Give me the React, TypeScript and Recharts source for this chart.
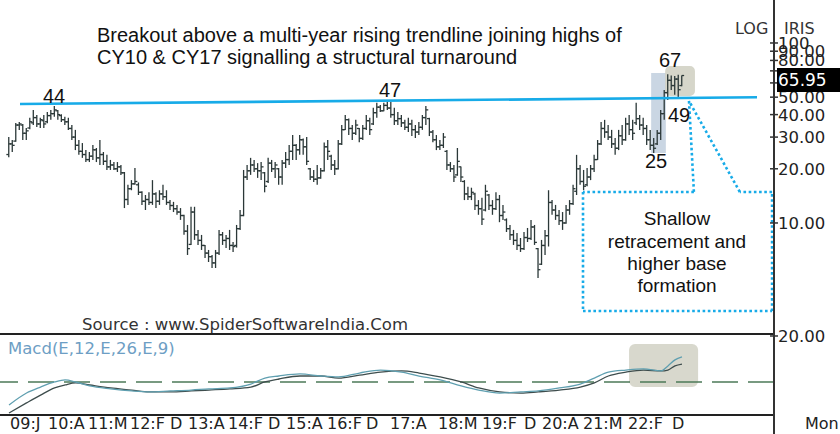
import {
  ComposedChart,
  LineChart,
  Bar,
  Line,
  XAxis,
  YAxis,
  ReferenceLine,
  ReferenceArea
} from 'recharts';

// monthly OHLC (oldest first)
const opens = [
  24.0, 27.5, 28.5, 35.0, 35.0, 31.5, 33.7, 36.0, 38.5, 35.5,
  37.0, 36.5, 39.5, 40.5, 42.0, 39.5, 37.5, 36.5, 33.5, 30.0,
  27.0, 25.0, 24.0, 22.5, 23.5, 25.5, 23.0, 24.0, 22.0, 20.5,
  21.0, 20.0, 20.5, 19.0, 13.5, 15.5, 16.5, 16.3, 14.8, 13.2,
  13.5, 13.0, 14.5, 13.2, 14.5, 14.0, 13.0, 12.5, 12.0, 11.5,
  11.0, 9.0, 7.6, 11.5, 8.6, 8.0, 7.5, 6.8, 6.5, 6.0,
  6.8, 8.6, 8.0, 8.2, 7.5, 7.5, 9.3, 11.0, 18.0, 19.5,
  21.0, 20.0, 19.5, 19.0, 17.0, 21.5, 20.0, 20.0, 18.0, 21.5,
  22.5, 25.0, 27.0, 25.5, 29.0, 26.5, 20.0, 18.0, 17.5, 17.8,
  19.5, 26.5, 23.5, 21.0, 20.0, 27.5, 33.0, 37.5, 33.5, 31.5,
  33.5, 29.5, 33.5, 37.0, 35.5, 41.0, 44.0, 42.0, 45.0, 43.5,
  40.0, 37.0, 38.0, 36.0, 34.0, 35.5, 33.0, 32.0, 34.0, 38.5,
  38.0, 32.0, 29.0, 26.5, 27.0, 25.0, 21.0, 20.0, 18.5, 20.5,
  17.0, 14.5, 14.0, 14.5, 12.5, 12.0, 11.8, 14.3, 12.5, 12.0,
  13.5, 11.0, 10.4, 9.3, 8.6, 8.0, 7.5, 7.2, 8.3, 8.2,
  9.5, 7.2, 5.9, 7.5, 8.5, 13.0, 11.8, 11.0, 10.3, 10.0,
  11.8, 12.8, 15.0, 20.0, 17.0, 16.3, 18.0, 20.0, 22.5, 27.5,
  33.5, 32.0, 30.0, 27.5, 26.0, 30.5, 29.0, 35.5, 33.0, 36.0,
  38.0, 35.0, 33.5, 29.0, 27.0, 27.5, 31.5, 40.5, 53.0, 62.0,
  58.0, 63.0, 58.0
];
const highs = [
  30.0, 28.9, 35.9, 36.4, 35.5, 33.7, 38.4, 42.4, 39.8, 38.4,
  39.8, 41.4, 42.4, 44.7, 42.4, 40.2, 38.9, 38.4, 35.0, 32.9,
  28.9, 27.8, 25.4, 24.8, 27.1, 26.1, 28.9, 24.8, 23.9, 22.4,
  21.8, 21.8, 21.0, 19.2, 16.3, 17.3, 20.2, 16.8, 15.0, 14.3,
  14.8, 17.3, 14.8, 15.2, 16.3, 15.2, 13.4, 13.1, 12.6, 12.1,
  11.1, 9.75, 12.3, 12.3, 9.15, 8.58, 7.55, 7.08, 6.64, 7.08,
  9.15, 8.91, 8.58, 9.15, 7.84, 9.75, 11.8, 19.7, 21.0, 23.0,
  22.4, 21.5, 21.8, 19.2, 23.0, 22.4, 21.8, 20.2, 22.4, 24.8,
  27.1, 30.8, 27.5, 30.8, 29.5, 30.0, 20.2, 19.7, 21.0, 20.2,
  28.0, 28.9, 23.9, 22.4, 28.9, 35.0, 39.8, 38.0, 35.0, 37.4,
  33.7, 35.0, 39.8, 38.4, 43.6, 46.5, 45.3, 46.5, 47.5, 47.0,
  43.6, 41.4, 39.8, 37.4, 38.4, 37.4, 35.0, 36.4, 39.8, 44.7,
  38.4, 32.9, 30.8, 28.9, 31.6, 25.4, 21.8, 21.0, 26.1, 20.6,
  17.3, 15.9, 15.7, 14.7, 13.4, 13.8, 16.3, 14.5, 13.4, 14.8,
  14.3, 12.6, 10.6, 9.75, 9.15, 8.80, 8.25, 8.91, 9.38, 10.4,
  9.75, 7.26, 8.05, 9.15, 15.2, 13.4, 12.6, 11.8, 11.5, 12.6,
  13.4, 16.3, 23.9, 21.0, 19.7, 20.2, 21.0, 23.9, 28.9, 36.4,
  37.4, 35.0, 32.9, 29.7, 32.9, 35.0, 38.4, 39.8, 37.4, 46.5,
  39.8, 38.4, 35.0, 32.9, 29.7, 32.9, 42.4, 54.8, 67.0, 66.0,
  65.5, 66.5, 66.0
];
const lows = [
  23.2, 24.8, 28.3, 32.9, 28.9, 28.9, 33.2, 35.0, 34.1, 33.7,
  33.7, 35.8, 37.4, 38.9, 37.4, 36.4, 35.0, 32.9, 28.9, 25.4,
  23.9, 23.0, 21.8, 21.8, 22.4, 21.8, 21.0, 21.0, 19.7, 19.7,
  19.7, 19.2, 18.5, 12.1, 12.6, 15.2, 16.3, 14.3, 12.6, 11.8,
  12.6, 12.6, 12.1, 12.6, 13.4, 12.6, 11.8, 11.5, 11.1, 10.4,
  8.6, 6.64, 7.55, 8.05, 7.55, 7.08, 6.39, 6.07, 5.62, 5.62,
  6.64, 7.55, 7.26, 7.08, 6.90, 7.3, 9.15, 10.9, 17.3, 18.5,
  19.2, 17.8, 17.3, 14.8, 16.7, 19.2, 17.8, 16.3, 16.3, 20.2,
  21.0, 22.4, 22.4, 23.9, 23.9, 21.0, 17.3, 16.9, 16.3, 17.6,
  19.3, 22.4, 19.7, 18.5, 19.8, 27.1, 32.9, 30.8, 28.9, 30.8,
  28.1, 28.9, 32.9, 30.8, 35.0, 38.4, 41.4, 41.8, 42.4, 38.4,
  35.0, 35.0, 34.1, 32.9, 32.0, 30.4, 29.7, 30.8, 32.9, 35.0,
  30.4, 28.1, 25.4, 25.4, 26.1, 19.7, 19.2, 16.9, 18.3, 16.9,
  13.4, 13.4, 13.4, 11.8, 11.1, 9.75, 11.6, 11.8, 11.1, 11.8,
  10.1, 10.4, 8.91, 8.05, 7.55, 7.08, 6.90, 7.08, 7.84, 8.05,
  7.55, 4.94, 5.84, 6.64, 7.4, 11.1, 10.4, 9.75, 9.15, 9.9,
  11.1, 12.6, 14.3, 16.3, 15.2, 16.0, 17.3, 19.2, 22.4, 27.1,
  29.7, 28.9, 26.1, 23.9, 25.4, 27.1, 28.6, 30.8, 28.9, 35.0,
  32.9, 30.8, 27.1, 25.4, 24.5, 27.1, 28.9, 37.4, 48.2, 54.8,
  51.5, 49.0, 57.5
];
const closes = [
  27.5, 27.0, 35.0, 35.5, 31.5, 32.5, 36.5, 38.5, 35.5, 37.5,
  35.5, 39.5, 40.5, 42.5, 40.0, 37.5, 36.5, 33.5, 30.0, 27.0,
  25.0, 24.0, 22.5, 23.5, 25.5, 23.0, 24.0, 22.0, 20.5, 21.0,
  20.0, 20.5, 19.0, 13.5, 15.5, 16.5, 17.0, 14.8, 13.2, 13.5,
  13.0, 14.5, 13.2, 14.5, 14.0, 13.0, 12.5, 12.0, 11.5, 11.0,
  9.0, 7.2, 11.5, 8.6, 8.0, 7.5, 6.8, 6.5, 6.0, 6.8,
  8.6, 8.0, 8.2, 7.5, 7.4, 9.3, 11.0, 18.0, 19.5, 21.0,
  20.0, 19.5, 20.5, 16.0, 21.5, 20.0, 21.0, 18.0, 21.5, 22.5,
  25.0, 27.0, 25.5, 29.0, 26.5, 22.0, 18.0, 17.5, 17.8, 19.5,
  26.5, 25.0, 21.0, 20.0, 27.5, 33.0, 37.5, 33.5, 31.5, 35.0,
  29.5, 33.5, 37.0, 33.0, 41.0, 44.0, 42.0, 45.0, 43.5, 40.0,
  37.0, 38.0, 36.0, 34.0, 35.5, 33.0, 32.0, 34.0, 38.5, 42.5,
  32.0, 29.0, 26.5, 27.0, 30.0, 21.0, 20.0, 18.0, 22.0, 18.0,
  14.5, 14.0, 14.8, 12.5, 12.0, 10.5, 15.0, 12.5, 12.0, 13.5,
  11.0, 11.5, 9.3, 8.6, 8.0, 7.5, 7.2, 8.3, 8.2, 9.5,
  7.8, 5.5, 7.5, 8.5, 13.0, 11.8, 11.0, 10.3, 10.0, 11.8,
  12.8, 15.5, 20.0, 17.0, 16.0, 18.0, 20.0, 22.5, 27.5, 33.5,
  32.0, 30.0, 27.5, 26.0, 30.5, 29.0, 35.5, 33.0, 31.5, 38.0,
  35.0, 33.5, 29.0, 27.0, 26.0, 31.5, 40.5, 53.0, 62.0, 58.0,
  63.0, 55.0, 65.95
];

// MACD(12,26,9) sampled at bar indices
const macdIdx = [0, 5, 9, 13, 16, 19, 23, 29, 35, 40, 46, 52, 57, 63, 69, 73, 77, 83, 89, 94,
  100, 106, 112, 117, 123, 129, 134, 140, 146, 151, 157, 163, 167, 171, 176, 181, 186, 188, 190, 192];
const macdVals = [-10.0, -4.8, -2.2, 0.0, 0.9, 0.0, -1.7, -3.0, -3.9, -4.3, -3.9, -3.5, -3.0, -2.6, -0.9, 1.7, 2.6, 3.5, 2.6, 2.2,
  3.9, 5.2, 4.3, 2.6, 0.9, -1.7, -3.5, -4.8, -4.3, -3.9, -2.6, -0.9, 1.7, 4.3, 5.2, 5.7, 4.8, 7.0, 9.6, 10.9];
const signalVals = [-13.5, -9.1, -5.7, -2.6, -1.3, -0.4, -1.3, -2.6, -3.5, -4.3, -4.3, -3.9, -3.5, -3.0, -2.2, 0.0, 1.3, 2.6, 2.6, 1.7,
  3.0, 4.3, 4.8, 3.9, 2.2, 0.0, -2.6, -4.3, -4.8, -4.3, -3.5, -2.2, -0.4, 2.6, 4.3, 5.2, 4.8, 5.2, 7.0, 7.8];

const priceTicks = [10, 20, 30, 40, 50, 60, 70, 80, 90, 100];
const hiddenPriceLabels = [60, 70]; // sit under the last-price box
const macdTicks = [20];

// date labels, placed at (fractional) bar positions
const xTickPos = [0.29, 11.13, 22.54, 34.52, 45.93, 51.07, 62.48, 73.89, 79.03, 90.72,
  101.85, 108.7, 122.39, 134.94, 146.93, 152.06, 163.76, 176.6, 189.15];
const xTickLabels = ['09:J', '10:A', '11:M', '12:F', 'D', '13:A', '14:F', 'D', '15:A', '16:F', 'D', '17:A',
  '18:M', '19:F', 'D', '20:A', '21:M', '22:F', 'D'];

const lastClose = 65.95;

const priceData = opens.map((o, i) => ({
  i,
  open: o,
  high: highs[i],
  low: lows[i],
  close: closes[i],
  range: [lows[i], highs[i]]
}));

const macdData = macdIdx.map((i, k) => ({ i, macd: macdVals[k], signal: signalVals[k] }));

// x domain so that bar 0 sits at the left edge like the source
const X_DOMAIN = [-2.57, 218.25];
const LOG_DOMAIN = [2.447, 173.3];
const MACD_DOMAIN = [-14.35, 20.43];

const AXIS_FONT = "'DejaVu Sans', Verdana, sans-serif";
const NOTE_FONT = "'Liberation Sans', Arial, sans-serif";
const CYAN = '#17abe8';

// trendline across CY10 / CY17 highs
const trendline = [{ x: 3.14, y: 45.8 }, { x: 213.4, y: 49.9 }];

// dotted callout outline (bar index, price)
const callout = [
  [194.0, 47.6], [195.4, 14.86], [163.76, 14.86], [163.76, 3.24],
  [217.7, 3.24], [217.7, 14.86], [208.5, 14.86], [194.0, 47.6]
];

const OhlcShape = (props: any) => {
  const { x, y, width, height, payload } = props;
  if (height == null || isNaN(y)) return null;
  const cx = x + width / 2;
  const lh = Math.log(payload.high);
  const ll = Math.log(payload.low);
  const span = lh - ll || 1;
  const yo = y + (height * (lh - Math.log(payload.open))) / span;
  const yc = y + (height * (lh - Math.log(payload.close))) / span;
  return (
    <g stroke="#2b3838" strokeWidth={1.3}>
      <line x1={cx} x2={cx} y1={y} y2={y + height} />
      <line x1={cx - 2.4} x2={cx} y1={yo} y2={yo} />
      <line x1={cx} x2={cx + 2.4} y1={yc} y2={yc} />
    </g>
  );
};

const ValueTick = ({ x, y, payload }: any) => (
  <g>
    <line x1={x - 4} x2={x + 4} y1={y} y2={y} stroke="#333" strokeWidth={1.5} />
    {!hiddenPriceLabels.includes(payload.value) && (
      <text x={x + 4} y={y} dy={6} fontSize={16.5} fill="#222" fontFamily={AXIS_FONT}>
        {payload.value === 100 ? '100' : Number(payload.value).toFixed(2)}
      </text>
    )}
  </g>
);

const DateTick = ({ x, y, index }: any) => (
  <text x={x} y={y + 14} fontSize={16} fill="#222" fontFamily={AXIS_FONT}>
    {xTickLabels[index]}
  </text>
);

export default function App() {
  return (
    <div
      style={{
        position: 'absolute',
        left: 0,
        top: 0,
        width: 840,
        height: 434,
        background: '#fff',
        overflow: 'hidden'
      }}
    >
      {/* Price panel */}
      <div style={{ position: 'absolute', left: 0, top: 0 }}>
        <ComposedChart width={840} height={333} data={priceData} margin={{ top: 0, right: 0, left: 0, bottom: 0 }}>
          <XAxis type="number" dataKey="i" domain={X_DOMAIN} allowDataOverflow hide />
          <YAxis
            orientation="right"
            type="number"
            scale="log"
            domain={LOG_DOMAIN}
            allowDataOverflow
            ticks={priceTicks}
            interval={0}
            width={66}
            tickSize={0}
            tickMargin={0}
            axisLine={false}
            tickLine={false}
            tick={<ValueTick />}
          />
          <ReferenceArea x1={183.2} x2={187.4} y1={24.5} y2={68.1} fill="#9fb5cc" fillOpacity={0.55} stroke="none" />
          <ReferenceArea x1={187.2} x2={195.7} y1={50.8} y2={74.5} fill="#cfcfc1" fillOpacity={0.85} stroke="none" radius={5} />
          <Bar dataKey="range" barSize={3} isAnimationActive={false} shape={(p: any) => <OhlcShape {...p} />} />
          <ReferenceLine segment={trendline} stroke={CYAN} strokeWidth={2.6} ifOverflow="visible" />
          {callout.slice(1).map((pt, k) => (
            <ReferenceLine
              key={k}
              segment={[
                { x: callout[k][0], y: callout[k][1] },
                { x: pt[0], y: pt[1] }
              ]}
              stroke={CYAN}
              strokeWidth={2.6}
              strokeDasharray="2.6 2.6"
              ifOverflow="visible"
            />
          ))}
        </ComposedChart>
      </div>

      {/* MACD panel */}
      <div style={{ position: 'absolute', left: 0, top: 325 }}>
        <LineChart width={840} height={109} data={macdData} margin={{ top: 10, right: 0, left: 0, bottom: 0 }}>
          <XAxis
            type="number"
            dataKey="i"
            domain={X_DOMAIN}
            allowDataOverflow
            ticks={xTickPos}
            interval={0}
            height={19}
            tickSize={0}
            tickMargin={0}
            axisLine={false}
            tickLine={false}
            tick={<DateTick />}
          />
          <YAxis
            orientation="right"
            type="number"
            domain={MACD_DOMAIN}
            allowDataOverflow
            ticks={macdTicks}
            interval={0}
            width={66}
            tickSize={0}
            tickMargin={0}
            axisLine={false}
            tickLine={false}
            tick={<ValueTick />}
          />
          <ReferenceArea x1={176.9} x2={196.6} y1={-2.2} y2={16.5} fill="#d4d4c8" fillOpacity={0.9} stroke="none" radius={6} />
          <ReferenceLine y={0} stroke="#4c7a58" strokeWidth={1.5} strokeDasharray="26 10" />
          <Line type="monotone" dataKey="signal" stroke="#3e4d4d" strokeWidth={1.3} dot={false} isAnimationActive={false} />
          <Line type="monotone" dataKey="macd" stroke="#5f9fb0" strokeWidth={1.3} dot={false} isAnimationActive={false} />
        </LineChart>
      </div>

      {/* Panel frame */}
      <div style={{ position: 'absolute', left: 0, top: 333, width: 774, height: 2, background: '#222' }} />
      <div style={{ position: 'absolute', left: 0, top: 414, width: 774, height: 2, background: '#222' }} />
      <div style={{ position: 'absolute', left: 773, top: 0, width: 2, height: 434, background: '#333' }} />

      {/* Notes */}
      <svg width={840} height={434} style={{ position: 'absolute', left: 0, top: 0, pointerEvents: 'none' }}>
        <g fontFamily={NOTE_FONT} fontSize={20} fill="#111">
          <text x={97} y={42}>Breakout above a multi-year rising trendline joining highs of</text>
          <text x={97} y={64}>CY10 &amp; CY17 signalling a structural turnaround</text>
          <text x={43} y={103}>44</text>
          <text x={379} y={97}>47</text>
          <text x={659} y={67}>67</text>
          <text x={668} y={122}>49</text>
          <text x={645} y={168}>25</text>
        </g>
        <g fontFamily={NOTE_FONT} fontSize={19} fill="#111" textAnchor="middle">
          <text x={677} y={225}>Shallow</text>
          <text x={677} y={248}>retracement and</text>
          <text x={677} y={270}>higher base</text>
          <text x={677} y={292}>formation</text>
        </g>
        <g fontFamily={AXIS_FONT} fontSize={16.5}>
          <text x={82} y={330} fill="#333">Source : www.SpiderSoftwareIndia.Com</text>
          <text x={8} y={354} fill="#6d9ec4">Macd(E,12,E,26,E,9)</text>
          <text x={735} y={34} fill="#333" fontSize={16}>LOG</text>
          <text x={784} y={34} fill="#333" fontSize={16}>IRIS</text>
          <text x={805} y={429} fill="#222" fontSize={16}>Mon</text>
        </g>
        <rect x={777} y={68} width={63} height={24} fill="#000" />
        <text x={778} y={86} fill="#fff" fontFamily={AXIS_FONT} fontSize={17}>
          {lastClose.toFixed(2)}
        </text>
      </svg>
    </div>
  );
}
